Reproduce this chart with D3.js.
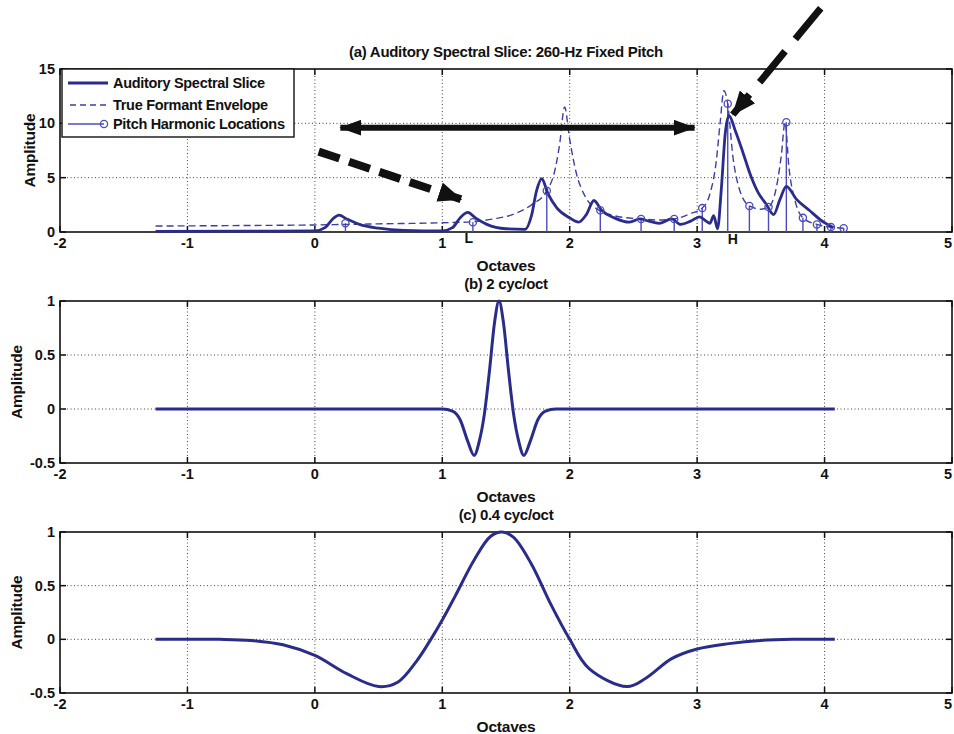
<!DOCTYPE html>
<html>
<head>
<meta charset="utf-8">
<script src="https://cdn.jsdelivr.net/npm/d3@7"></script>
<style>
  body { margin: 0; background: #fff; }
  svg text { font-family: "Liberation Sans", Arial, sans-serif; font-weight: bold; fill: #111; }
</style>
</head>
<body>
<div class="canvas"></div>
<script>
// ---- data ----
const xTicks = [-2, -1, 0, 1, 2, 3, 4, 5];
const ampTicksA = [0, 5, 10, 15];
const ampTicksBC = [-0.5, 0, 0.5, 1];

// (a) auditory spectral slice [octave, amplitude]
const sliceA = [[-1.25,0.05],[-0.5,0.08],[0,0.1],[0.08,0.4],[0.14,1.2],[0.19,1.55],[0.25,1.2],[0.35,0.7],
  [0.5,0.35],[0.7,0.15],[1.0,0.1],[1.08,0.4],[1.14,1.3],[1.2,1.8],[1.26,1.3],[1.35,0.7],[1.5,0.3],
  [1.65,0.25],[1.7,1.5],[1.74,3.8],[1.78,4.9],[1.83,3.5],[1.9,2.2],[2.0,1.3],[2.07,0.9],[2.13,1.6],
  [2.19,2.9],[2.25,2.0],[2.35,1.3],[2.47,0.9],[2.55,1.2],[2.62,1.0],[2.7,0.8],[2.8,1.2],[2.87,0.7],
  [2.95,1.0],[3.02,1.4],[3.07,1.0],[3.1,0.8],[3.13,1.5],[3.16,0.3],[3.19,4],[3.22,9],[3.25,10.7],
  [3.3,9.3],[3.36,7.3],[3.42,5.2],[3.48,3.6],[3.54,2.6],[3.6,1.6],[3.65,3.0],[3.7,4.2],[3.78,3.0],
  [3.88,2.0],[3.97,1.1],[4.07,0.4]];

// (a) true formant envelope
const envelopeA = [[-1.25,0.55],[-0.5,0.6],[0,0.65],[0.5,0.75],[1.0,0.85],[1.24,0.95],[1.4,1.2],[1.55,1.6],
  [1.7,2.5],[1.82,3.8],[1.88,5.5],[1.92,8],[1.96,11.5],[2.0,8.5],[2.05,5.5],[2.12,3.3],[2.23,2.0],
  [2.35,1.5],[2.56,1.2],[2.7,1.1],[2.82,1.2],[2.95,1.7],[3.04,2.2],[3.1,3.5],[3.15,6.5],[3.18,10],
  [3.21,13.0],[3.24,11.8],[3.28,7],[3.33,4],[3.41,2.4],[3.5,2.1],[3.56,2.3],[3.62,4],[3.66,7],
  [3.69,10.1],[3.72,6],[3.77,2.8],[3.83,1.3],[3.94,0.7],[4.05,0.45],[4.15,0.35]];

// (a) pitch harmonic locations
const harmonicOct = [0.24, 1.24, 1.82, 2.24, 2.56, 2.82, 3.04, 3.24, 3.41, 3.56, 3.70, 3.83, 3.94, 4.05, 4.15];
const harmonicAmp = [0.8, 0.9, 3.8, 2.0, 1.2, 1.2, 2.2, 11.8, 2.4, 2.3, 10.1, 1.3, 0.7, 0.45, 0.35];

// (b) 2 cyc/oct
const filterB = [[-1.25,0],[1.0,0],[1.08,-0.02],[1.14,-0.1],[1.2,-0.3],[1.25,-0.43],[1.29,-0.3],[1.33,-0.05],
  [1.37,0.35],[1.41,0.8],[1.445,1.0],[1.48,0.8],[1.52,0.35],[1.56,-0.05],[1.6,-0.3],[1.64,-0.43],
  [1.69,-0.3],[1.75,-0.1],[1.81,-0.02],[1.89,0],[4.08,0]];

// (c) 0.4 cyc/oct
const filterC = [[-1.25,0],[-1,0],[-0.75,0],[-0.5,-0.01],[-0.25,-0.05],[0,-0.15],[0.25,-0.32],[0.5,-0.44],
  [0.65,-0.4],[0.8,-0.2],[0.91,0],[1.0,0.18],[1.1,0.4],[1.25,0.74],[1.38,0.96],[1.47,1.0],[1.56,0.95],
  [1.7,0.7],[1.85,0.33],[2.0,0],[2.15,-0.27],[2.45,-0.44],[2.6,-0.36],[2.8,-0.18],[3.0,-0.09],
  [3.25,-0.04],[3.5,-0.01],[3.75,0],[4.08,0]];

const legendLabels = ["Auditory Spectral Slice", "True Formant Envelope", "Pitch Harmonic Locations"];

// ---- layout ----
const width = 954, height = 734;
const plotLeft = 60, plotRight = 952;
const navy = "#2a2c8c", dashBlue = "#3c3eaa", stemBlue = "#4b4cc0";

const svg = d3.select(".canvas").append("svg")
    .attr("width", width)
    .attr("height", height);

const defs = svg.append("defs");
function headMarker(id, w, h) {
    defs.append("marker")
        .attr("id", id)
        .attr("viewBox", `0 0 ${w} ${h}`)
        .attr("refX", w - 1).attr("refY", h / 2)
        .attr("markerWidth", w).attr("markerHeight", h)
        .attr("markerUnits", "userSpaceOnUse")
        .attr("orient", "auto-start-reverse")
        .append("path")
        .attr("d", `M0,0L${w},${h / 2}L0,${h}Z`)
        .attr("fill", "#111");
}
headMarker("headBig", 22, 16);
headMarker("headDash", 24, 20);

const x = d3.scaleLinear().domain([-2, 5]).range([plotLeft, plotRight]);

function makePanel(top, bottom, yDomain, yTicks, title, ylabelX) {
    const y = d3.scaleLinear().domain(yDomain).range([bottom, top]);
    const g = svg.append("g");

    // grid
    g.selectAll(".vgrid").data(xTicks.slice(1, -1)).enter().append("line")
        .attr("x1", d => x(d)).attr("x2", d => x(d))
        .attr("y1", top).attr("y2", bottom)
        .attr("stroke", "#444").attr("stroke-width", 1).attr("stroke-dasharray", "1,2.5");
    g.selectAll(".hgrid").data(yTicks.slice(1, -1)).enter().append("line")
        .attr("x1", plotLeft).attr("x2", plotRight)
        .attr("y1", d => y(d)).attr("y2", d => y(d))
        .attr("stroke", "#444").attr("stroke-width", 1).attr("stroke-dasharray", "1,2.5");

    // inward ticks
    xTicks.forEach(t => {
        g.append("line").attr("x1", x(t)).attr("x2", x(t)).attr("y1", bottom).attr("y2", bottom - 6)
            .attr("stroke", "#111").attr("stroke-width", 1.5);
        g.append("line").attr("x1", x(t)).attr("x2", x(t)).attr("y1", top).attr("y2", top + 6)
            .attr("stroke", "#111").attr("stroke-width", 1.5);
    });
    yTicks.forEach(t => {
        g.append("line").attr("x1", plotLeft).attr("x2", plotLeft + 6).attr("y1", y(t)).attr("y2", y(t))
            .attr("stroke", "#111").attr("stroke-width", 1.5);
        g.append("line").attr("x1", plotRight).attr("x2", plotRight - 6).attr("y1", y(t)).attr("y2", y(t))
            .attr("stroke", "#111").attr("stroke-width", 1.5);
    });

    // frame
    g.append("rect")
        .attr("x", plotLeft).attr("y", top)
        .attr("width", plotRight - plotLeft).attr("height", bottom - top)
        .attr("fill", "none").attr("stroke", "#111").attr("stroke-width", 1.6);

    // tick labels (last one pulled in so it stays on the page)
    g.selectAll(".xl").data(xTicks).enter().append("text")
        .attr("x", (d, i) => i === xTicks.length - 1 ? x(d) - 4 : x(d))
        .attr("y", bottom + 16)
        .attr("text-anchor", "middle").attr("font-size", 14.5)
        .text(d => d);
    g.selectAll(".yl").data(yTicks).enter().append("text")
        .attr("x", plotLeft - 5).attr("y", d => y(d) + 5)
        .attr("text-anchor", "end").attr("font-size", 14.5)
        .text(d => d);

    // labels
    g.append("text")
        .attr("x", (plotLeft + plotRight) / 2).attr("y", bottom + 39)
        .attr("text-anchor", "middle").attr("font-size", 15.5).attr("letter-spacing", -0.2)
        .text("Octaves");
    g.append("text")
        .attr("transform", `translate(${ylabelX},${(top + bottom) / 2}) rotate(-90)`)
        .attr("text-anchor", "middle").attr("font-size", 15.5).attr("letter-spacing", -0.2)
        .text("Amplitude");
    g.append("text")
        .attr("x", (plotLeft + plotRight) / 2).attr("y", top - 12)
        .attr("text-anchor", "middle").attr("font-size", 15).attr("letter-spacing", -0.3)
        .text(title);

    return { g, y };
}

// ---- panel (a) ----
const pa = makePanel(69, 232, [0, 15], ampTicksA, "(a) Auditory Spectral Slice: 260-Hz Fixed Pitch", 35);
const lineA = d3.line().x(d => x(d[0])).y(d => pa.y(d[1])).curve(d3.curveMonotoneX);

const harmonics = harmonicOct.map((o, i) => ({ oct: o, amp: harmonicAmp[i] }));
pa.g.selectAll(".stem").data(harmonics).enter().append("line")
    .attr("x1", d => x(d.oct)).attr("x2", d => x(d.oct))
    .attr("y1", pa.y(0)).attr("y2", d => pa.y(d.amp))
    .attr("stroke", stemBlue).attr("stroke-width", 1.4);

pa.g.append("path").datum(envelopeA)
    .attr("d", lineA)
    .attr("fill", "none").attr("stroke", dashBlue).attr("stroke-width", 1.4)
    .attr("stroke-dasharray", "7,4");

pa.g.append("path").datum(sliceA)
    .attr("d", lineA)
    .attr("fill", "none").attr("stroke", navy).attr("stroke-width", 2.8)
    .attr("stroke-linejoin", "round");

pa.g.selectAll(".dot").data(harmonics).enter().append("circle")
    .attr("cx", d => x(d.oct)).attr("cy", d => pa.y(d.amp))
    .attr("r", 3.6)
    .attr("fill", "none").attr("stroke", stemBlue).attr("stroke-width", 1.3);

// L / H annotations at harmonic 2 and 8
pa.g.append("text").attr("x", x(harmonicOct[1]) - 4).attr("y", pa.y(0) + 11)
    .attr("text-anchor", "middle").attr("font-size", 14).text("L");
pa.g.append("text").attr("x", x(harmonicOct[7]) + 5).attr("y", pa.y(0) + 12)
    .attr("text-anchor", "middle").attr("font-size", 14).text("H");

// legend
const legend = pa.g.append("g");
legend.append("rect")
    .attr("x", 62).attr("y", 69).attr("width", 232).attr("height", 68)
    .attr("fill", "#fff").attr("stroke", "#111").attr("stroke-width", 1.4);
const legendRows = [83, 105, 124];
legend.append("line").attr("x1", 68).attr("x2", 108).attr("y1", legendRows[0]).attr("y2", legendRows[0])
    .attr("stroke", navy).attr("stroke-width", 2.8);
legend.append("line").attr("x1", 70).attr("x2", 108).attr("y1", legendRows[1]).attr("y2", legendRows[1])
    .attr("stroke", dashBlue).attr("stroke-width", 1.4).attr("stroke-dasharray", "6,4");
legend.append("line").attr("x1", 68).attr("x2", 104).attr("y1", legendRows[2]).attr("y2", legendRows[2])
    .attr("stroke", stemBlue).attr("stroke-width", 1.4);
legend.append("circle").attr("cx", 104).attr("cy", legendRows[2]).attr("r", 3.6)
    .attr("fill", "none").attr("stroke", stemBlue).attr("stroke-width", 1.3);
legend.selectAll(".lt").data(legendLabels).enter().append("text")
    .attr("x", 113).attr("y", (d, i) => legendRows[i] + 5)
    .attr("font-size", 14.5).attr("letter-spacing", -0.3)
    .text(d => d);

// arrows drawn on top of panel (a), placed in data coordinates
const arrowSpan = [[0.2, 9.6], [2.98, 9.6]];
const arrowLow = [[0.03, 7.4], [1.15, 3.0]];
const arrowHigh = [[3.97, 20.6], [3.28, 10.8]];
const straight = d3.line().x(d => x(d[0])).y(d => pa.y(d[1]));

svg.append("path").datum(arrowSpan).attr("d", straight)
    .attr("stroke", "#111").attr("stroke-width", 6).attr("fill", "none")
    .attr("marker-start", "url(#headBig)").attr("marker-end", "url(#headBig)");
svg.append("path").datum(arrowLow).attr("d", straight)
    .attr("stroke", "#111").attr("stroke-width", 8).attr("fill", "none")
    .attr("stroke-dasharray", "22,10")
    .attr("marker-end", "url(#headDash)");
svg.append("path").datum(arrowHigh).attr("d", straight)
    .attr("stroke", "#111").attr("stroke-width", 7).attr("fill", "none")
    .attr("stroke-dasharray", "40,16")
    .attr("marker-end", "url(#headDash)");

// ---- panel (b) ----
const pb = makePanel(301, 463, [-0.5, 1], ampTicksBC, "(b) 2 cyc/oct", 22);
pb.g.append("path").datum(filterB)
    .attr("d", d3.line().x(d => x(d[0])).y(d => pb.y(d[1])).curve(d3.curveMonotoneX))
    .attr("fill", "none").attr("stroke", navy).attr("stroke-width", 3);

// ---- panel (c) ----
const pc = makePanel(532, 693, [-0.5, 1], ampTicksBC, "(c) 0.4 cyc/oct", 22);
pc.g.append("path").datum(filterC)
    .attr("d", d3.line().x(d => x(d[0])).y(d => pc.y(d[1])).curve(d3.curveCatmullRom))
    .attr("fill", "none").attr("stroke", navy).attr("stroke-width", 3);
</script>
</body>
</html>
